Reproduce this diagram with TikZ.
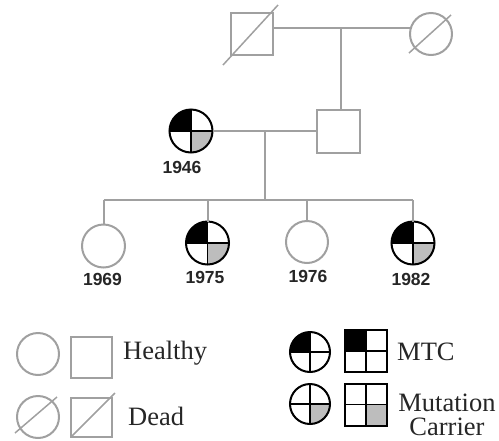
\documentclass[tikz,border=0pt]{standalone}
\usepackage{fontspec}
\setmainfont{Liberation Serif}
\setsansfont{Liberation Sans}
\usetikzlibrary{calc}
\definecolor{lgray}{HTML}{A0A0A0}
\definecolor{cgray}{HTML}{BDBDBD}
\begin{document}
\begin{tikzpicture}[x=1pt,y=-1pt,
  sym/.style={minimum size=42pt, inner sep=0pt, outer sep=0pt},
  hl/.style={sym, draw=lgray, line width=2pt},
  fem/.style={circle},
  mal/.style={rectangle},
  aff/.style 2 args={sym, draw=black, line width=2pt, path picture={
     \fill[#1] (path picture bounding box.center) rectangle (path picture bounding box.north west);
     \fill[#2] (path picture bounding box.center) rectangle (path picture bounding box.south east);
     \draw[black, line width=1.5pt] (path picture bounding box.north) -- (path picture bounding box.south)
        (path picture bounding box.west) -- (path picture bounding box.east);}},
  conn/.style={draw=lgray, line width=2pt},
  slash/.style={draw=lgray, line width=1.5pt},
  year/.style={font=\sffamily\bfseries\fontsize{17.5}{17.5}\selectfont, text=black!85, inner sep=0pt},
  legtext/.style={font=\fontsize{26.5}{24}\selectfont, text=black!85, inner sep=0pt, anchor=west}
]
\useasboundingbox (0,0) rectangle (499,440);
% generation I
\node[hl, mal] (gf) at (252,34) {};
\node[hl, fem] (gm) at (431,34) {};
\draw[slash] ($(gf.center)+(-29,31)$) -- ($(gf.center)+(26,-29)$);
\draw[slash] ($(gm.center)+(-22,19)$) -- ($(gm.center)+(20,-19)$);
\draw[conn] ([yshift=6pt]gf.east) -- ([yshift=6pt]gm.west);
\coordinate (j1) at (341,28);
% generation II
\node[hl, mal, minimum size=43pt] (fa) at (338.5,131) {};
\node[aff={black}{cgray}, fem, minimum size=43pt] (mo) at (191,131) {};
\node[year] (y1946) at (182,167) {1946};
\draw[conn] (j1) -- (j1 |- fa.north);
\draw[conn] (mo.east) -- (fa.west);
\coordinate (j2) at (265,131);
\coordinate (j3) at (265,200);
\draw[conn] (j2) -- (j3);
% generation III
\node[hl, fem, minimum size=43pt] (c1) at (103.5,246) {};
\node[aff={black}{cgray}, fem, minimum size=43pt] (c2) at (207.5,243) {};
\node[hl, fem, minimum size=42pt] (c3) at (307,242) {};
\node[aff={black}{cgray}, fem, minimum size=43pt] (c4) at (413,243) {};
\node[year] (y1969) at (102.5,279) {1969};
\node[year] (y1975) at (205,277) {1975};
\node[year] (y1976) at (308,276) {1976};
\node[year] (y1982) at (411,279) {1982};
\draw[conn] (c1.north |- j3) -- (c4.north |- j3);
\foreach \c in {c1,c2,c3,c4} \draw[conn] (\c.north |- j3) -- (\c.north);
% legend
\node[hl, fem] (lhf) at (38,354) {};
\node[hl, mal, minimum size=41pt] (lhm) at (91.5,357) {};
\node[legtext] (thealthy) at (123,353) {Healthy};
\node[hl, fem] (ldf) at (38,417) {};
\node[hl, mal, minimum width=41pt, minimum height=39pt] (ldm) at (91.5,417.5) {};
\draw[slash] ($(ldf.center)+(-23,16)$) -- ($(ldf.center)+(19,-20)$);
\draw[slash] (ldm.south west) -- ($(ldm.north east)+(3,-5)$);
\node[legtext] (tdead) at (128,416) {Dead};
\node[aff={black}{white}, fem, minimum size=40pt] (lmf) at (310,352) {};
\node[aff={black}{white}, mal, minimum size=42pt] (lmm) at (366,351) {};
\node[legtext] (tmtc) at (397,352) {MTC};
\node[aff={white}{cgray}, fem, minimum size=40pt] (lcf) at (310,404) {};
\node[aff={white}{cgray}, mal, minimum size=42pt] (lcm) at (366,404.5) {};
\node[legtext, anchor=center, align=center] (tcar) at (447,415) {Mutation\\Carrier};
\end{tikzpicture}
\end{document}
